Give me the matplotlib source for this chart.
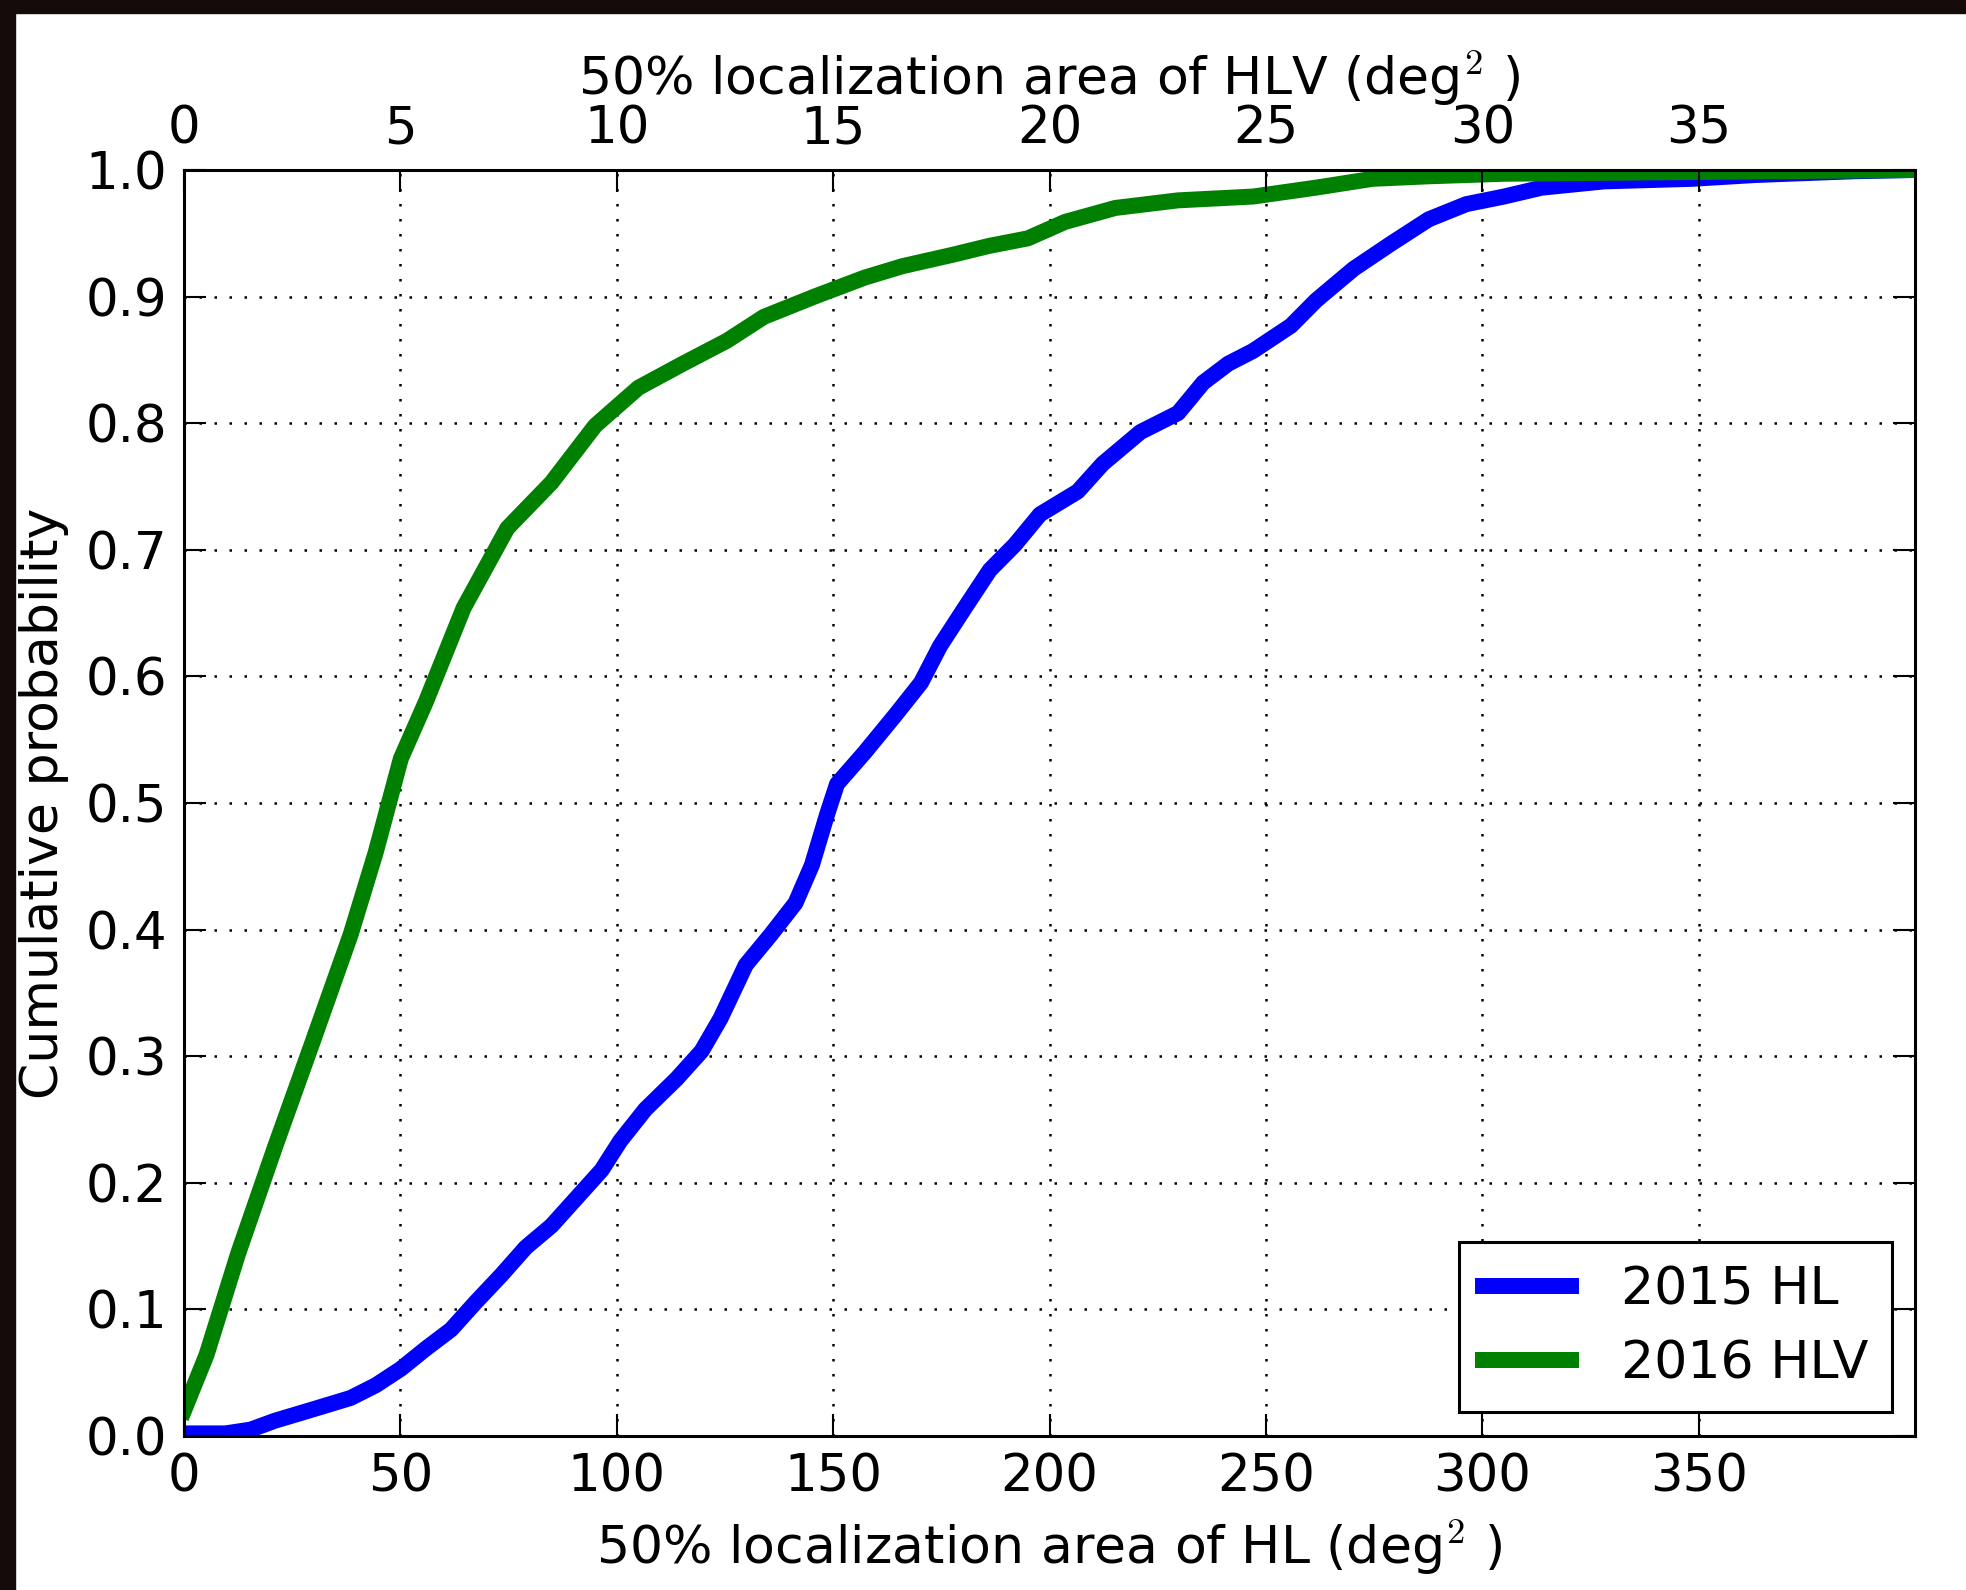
import matplotlib
matplotlib.use('Agg')
import matplotlib.pyplot as plt
import matplotlib.patches as mpatches

plt.rcParams['mathtext.fontset'] = 'cm'
plt.rcParams['font.family'] = ['DejaVu Sans']

# 2015 HL: 50% area (deg^2) vs cumulative probability
hl_area = [0, 9.6, 15.4, 21, 29.8, 38.5, 44.3, 50.1, 55.9, 61.7, 67.5, 73.3, 79,
           84.9, 90.7, 96.5, 100.8, 106.6, 113.8, 119.6, 124, 129.8, 135.6, 141.3,
           145.1, 148.6, 150.9, 157.3, 164.5, 170.3, 174.7, 180.4, 186.2, 192,
           197.8, 206.5, 212.3, 221, 229.7, 235.5, 241.3, 247, 255.8, 261.6, 270.3,
           279, 287.6, 296.3, 305, 313.7, 328.2, 348.4, 362.9, 386, 400]
hl_prob = [0.002, 0.002, 0.005, 0.012, 0.021, 0.030, 0.040, 0.053, 0.069, 0.084,
           0.106, 0.127, 0.149, 0.166, 0.188, 0.210, 0.233, 0.258, 0.282, 0.304,
           0.330, 0.372, 0.396, 0.421, 0.451, 0.491, 0.515, 0.540, 0.570, 0.595,
           0.624, 0.654, 0.684, 0.704, 0.728, 0.746, 0.768, 0.793, 0.808, 0.832,
           0.847, 0.857, 0.877, 0.897, 0.922, 0.942, 0.961, 0.973, 0.979, 0.986,
           0.991, 0.993, 0.996, 0.999, 1.0]

# 2016 HLV
hlv_area = [0, 5.2, 12.5, 21, 29.8, 38.5, 44.3, 50.1, 55.9, 64.6, 74.7, 84.9, 95,
            105, 115.3, 125.4, 134, 145.7, 157.3, 166, 177.6, 186, 195, 203.6,
            215.2, 229.7, 247, 261.5, 274.6, 287.6, 305, 400]
hlv_prob = [0.02, 0.064, 0.144, 0.228, 0.312, 0.396, 0.461, 0.535, 0.58, 0.654,
            0.717, 0.753, 0.798, 0.828, 0.847, 0.865, 0.884, 0.90, 0.915, 0.924,
            0.933, 0.94, 0.946, 0.959, 0.970, 0.976, 0.979, 0.986, 0.993, 0.995,
            0.997, 1.0]

bottom_ticks = [0, 50, 100, 150, 200, 250, 300, 350]
top_ticks = [0, 5, 10, 15, 20, 25, 30, 35]
y_ticks = [0.0, 0.1, 0.2, 0.3, 0.4, 0.5, 0.6, 0.7, 0.8, 0.9, 1.0]

fs = 37.5
tfs = 37

fig = plt.figure(figsize=(19.66, 15.90), dpi=100)
fig.patch.set_facecolor('white')
# dark frame at top and left edge of the screenshot
fig.patches.append(mpatches.Rectangle((0, 1 - 13 / 1590), 1, 13 / 1590,
                                      transform=fig.transFigure, color='#150b0b', zorder=-1))
fig.patches.append(mpatches.Rectangle((0, 0), 15 / 1966, 1,
                                      transform=fig.transFigure, color='#150b0b', zorder=-1))

ax = fig.add_axes([0.0936, 0.0969, 0.8805, 0.7962])
ax.plot(hl_area, hl_prob, color='blue', lw=11.5, label='2015 HL', solid_joinstyle='round')
ax.plot(hlv_area, hlv_prob, color='green', lw=11.5, label='2016 HLV', solid_joinstyle='round')
ax.set_xlim(0, 400)
ax.set_ylim(0, 1)
ax.set_xticks(bottom_ticks)
ax.set_yticks(y_ticks)
ax.set_yticklabels(['%.1f' % v for v in y_ticks])
ax.grid(True, color='black', linestyle=(0, (1, 5)), linewidth=1.8)
ax.tick_params(direction='in', length=16, width=1.5, labelsize=tfs, pad=12,
               right=True, top=False)
for s in ax.spines.values():
    s.set_linewidth(2.2)
ax.set_xlabel('50% localization area of HL (deg$^2$ )', fontsize=fs, labelpad=11)
ax.set_ylabel('Cumulative probability', fontsize=fs, labelpad=12)

leg = ax.legend(loc='lower right', fontsize=fs, fancybox=False, framealpha=1,
                edgecolor='black', handlelength=1.7, handletextpad=0.95,
                borderpad=0.45, labelspacing=0.45, borderaxespad=0.45)
leg.get_frame().set_linewidth(2.2)

ax2 = ax.twiny()
ax2.set_xlim(0, 40)
ax2.set_xticks(top_ticks)
ax2.tick_params(direction='in', length=16, width=1.5, labelsize=tfs, pad=11)
ax2.set_xlabel('50% localization area of HLV (deg$^2$ )', fontsize=fs, labelpad=7)

fig.savefig('out.png', dpi=100)
